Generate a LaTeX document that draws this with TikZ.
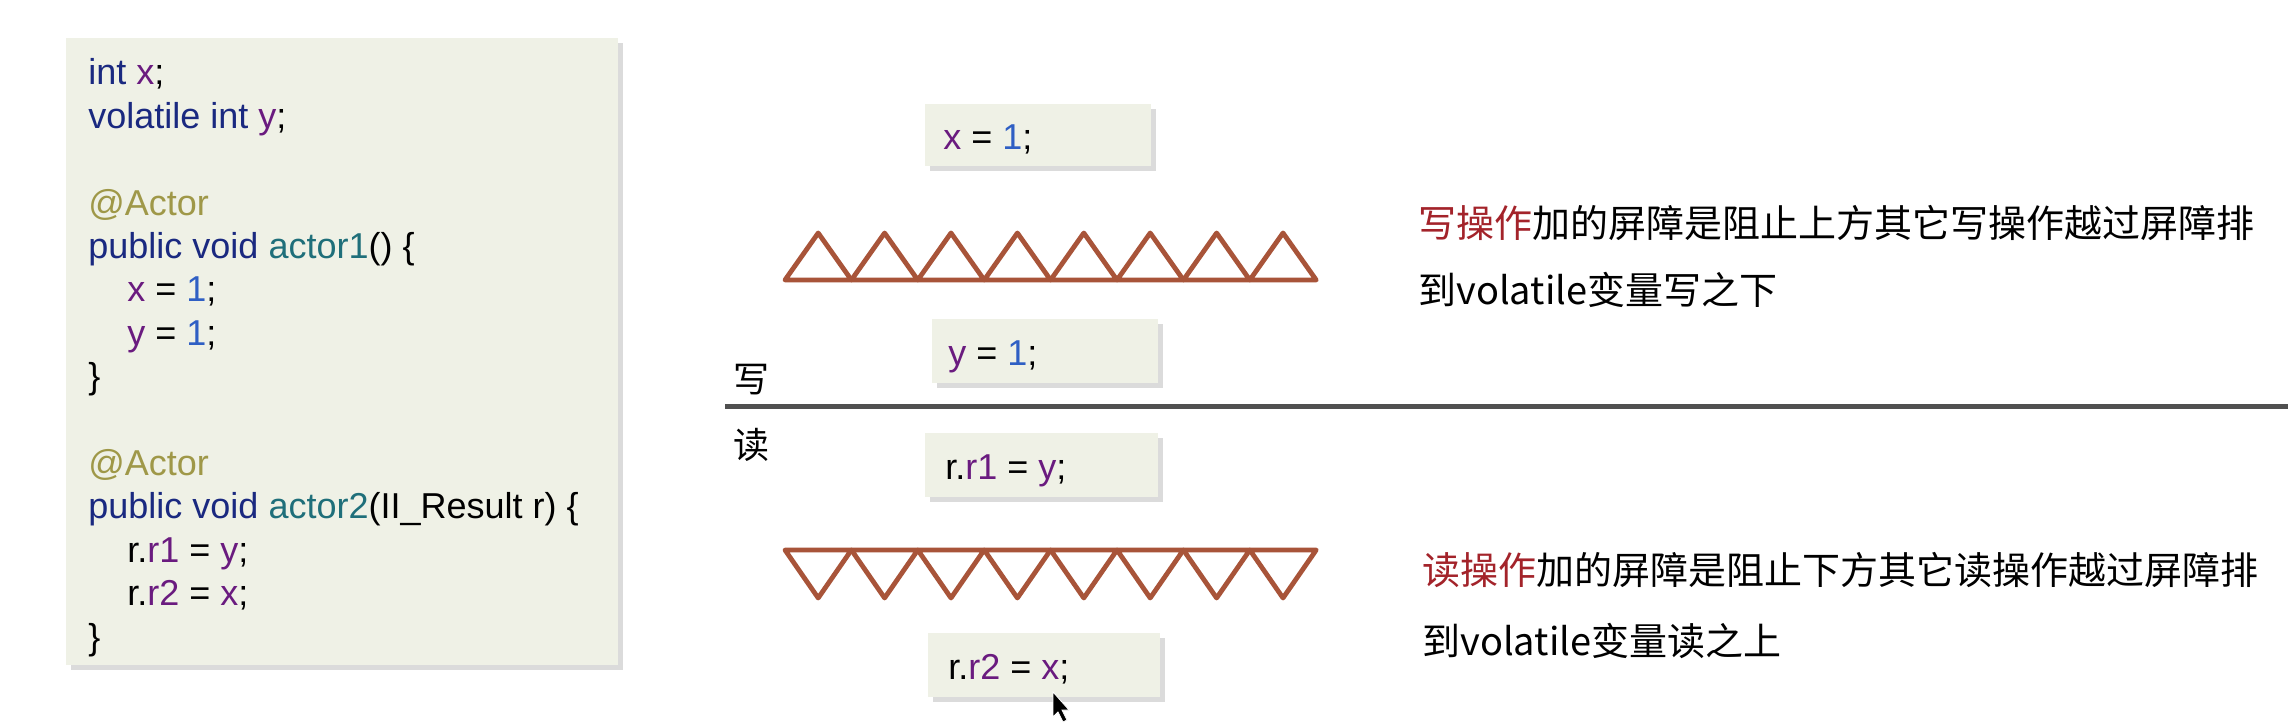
\documentclass[tikz,border=0pt]{standalone}
\usepackage{fontspec}
\setmainfont{Liberation Sans}
\newfontfamily\cjk{Noto Sans CJK SC}
\usetikzlibrary{shadows}
\definecolor{boxfill}{HTML}{EFF1E6}
\definecolor{kwc}{HTML}{1A2980}
\definecolor{varc}{HTML}{6A1B7F}
\definecolor{numc}{HTML}{2F5FC4}
\definecolor{annc}{HTML}{9F9848}
\definecolor{methc}{HTML}{1F6F7A}
\definecolor{barc}{HTML}{A85439}
\definecolor{redc}{HTML}{A3232A}
\definecolor{rulec}{HTML}{505050}
\newcommand\ckw[1]{\textcolor{kwc}{#1}}
\newcommand\cvar[1]{\textcolor{varc}{#1}}
\newcommand\cnum[1]{\textcolor{numc}{#1}}
\newcommand\cann[1]{\textcolor{annc}{#1}}
\newcommand\cmeth[1]{\textcolor{methc}{#1}}
\begin{document}
\begin{tikzpicture}[x=0.5pt,y=-0.5pt,
  codebg/.style={fill=boxfill, drop shadow={shadow xshift=2.5pt, shadow yshift=-2.5pt, opacity=0.28}},
  codeline/.style={anchor=base west, inner sep=0pt, font=\fontsize{18}{21}\selectfont},
  barrier/.style={draw=barc, line width=2.4pt, line join=round, line cap=round},
  cjktext/.style={anchor=base west, inner sep=0pt, font=\cjk\fontsize{19}{23}\selectfont},
  sidelabel/.style={anchor=center, inner sep=0pt, font=\cjk\fontsize{18}{21}\selectfont}]
\fill[white] (0,0) rectangle (2292,726);
\useasboundingbox (0,0) rectangle (2292,726);

% code box
\path[codebg] (66,38) rectangle (618,665);
\node[codeline] (l0) at (88,85) {\ckw{int} \cvar{x};};
\node[codeline] (l1) at (88,128.4) {\ckw{volatile int} \cvar{y};};
\node[codeline] (l3) at (88,215.2) {\cann{@Actor}};
\node[codeline] (l4) at (88,258.6) {\ckw{public void} \cmeth{actor1}() \{};
\node[codeline] (l5) at (127,302) {\cvar{x} = \cnum{1};};
\node[codeline] (l6) at (127,345.4) {\cvar{y} = \cnum{1};};
\node[codeline] (l7) at (88,388.8) {\}};
\node[codeline] (l9) at (88,475.6) {\cann{@Actor}};
\node[codeline] (l10) at (88,519) {\ckw{public void} \cmeth{actor2}(II\_Result r) \{};
\node[codeline] (l11) at (127,562.4) {r.\cvar{r1} = \cvar{y};};
\node[codeline] (l12) at (127,605.8) {r.\cvar{r2} = \cvar{x};};
\node[codeline] (l13) at (88,649.2) {\}};

% small boxes
\path[codebg] (925,104) rectangle (1151,166);
\node[codeline] (bx) at (943,150) {\cvar{x} = \cnum{1};};
\path[codebg] (932,319) rectangle (1158,383);
\node[codeline] (by) at (948,366) {\cvar{y} = \cnum{1};};
\path[codebg] (925,433) rectangle (1158,497);
\node[codeline] (br1) at (945,480) {r.\cvar{r1} = \cvar{y};};
\path[codebg] (928,633) rectangle (1160,697);
\node[codeline] (br2) at (948,680) {r.\cvar{r2} = \cvar{x};};

% barriers
\foreach \i in {0,...,7}{
  \draw[barrier] ({785+66.4*\i},280) -- ({785+66.4*\i+33.2},233) -- ({785+66.4*(\i+1)},280) -- cycle;
  \draw[barrier] ({785+66.4*\i},550) -- ({785+66.4*\i+33.2},598) -- ({785+66.4*(\i+1)},550) -- cycle;
}

% divider
\coordinate (rl) at (725,407);
\coordinate (rr) at (2288,407);
\draw[rulec, line width=2.5pt] (rl) -- (rr);
\node[sidelabel] (w) at (751,380) {写};
\node[sidelabel] (r) at (751,445) {读};

% explanations
\node[cjktext] (t1a) at (1418,238) {\textcolor{redc}{写操作}加的屏障是阻止上方其它写操作越过屏障排};
\node[cjktext] (t1b) at (1418,305) {到volatile变量写之下};
\node[cjktext] (t2a) at (1422,585) {\textcolor{redc}{读操作}加的屏障是阻止下方其它读操作越过屏障排};
\node[cjktext] (t2b) at (1422,656) {到volatile变量读之上};

% mouse cursor
\fill[black, draw=white, line width=0.4pt] (1053,692) -- (1053,717) -- (1058,712) -- (1063,722) -- (1067,720) -- (1062,710) -- (1069,710) -- cycle;
\end{tikzpicture}
\end{document}
